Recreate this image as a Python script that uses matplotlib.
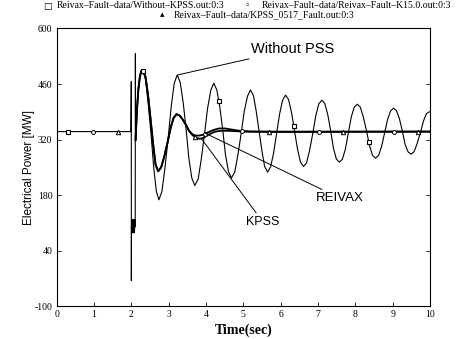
import numpy as np
import matplotlib
matplotlib.use("Agg")
import matplotlib.pyplot as plt

# shared part: steady state and fault (all three runs coincide here)
t_common = [0.0, 1.99, 2.0, 2.002, 2.005, 2.015, 2.025, 2.035, 2.045, 2.055, 2.065,
            2.075, 2.085, 2.095, 2.105, 2.11, 2.115]
p_common = [340, 340, 466, -36, 100, 118, 85, 118, 85, 118, 85,
            118, 85, 118, 100, 537, 319]

# first swing after clearing, same for all three
t_swing = [2.115, 2.15, 2.19, 2.23, 2.27, 2.31]
p_swing = [319, 392, 447, 479, 493, 495]

# without PSS
t_without = [2.38, 2.45, 2.53, 2.60, 2.67, 2.74,
             2.82, 2.90, 2.99, 3.07, 3.15, 3.23,
             3.31, 3.39, 3.47, 3.54, 3.62, 3.70,
             3.79, 3.87, 3.96, 4.04, 4.13, 4.21,
             4.29, 4.37, 4.45, 4.52, 4.60, 4.68,
             4.77, 4.85, 4.94, 5.02, 5.11, 5.19,
             5.27, 5.34, 5.42, 5.50, 5.57, 5.65,
             5.73, 5.81, 5.89, 5.97, 6.05, 6.13,
             6.21, 6.29, 6.37, 6.45, 6.53, 6.61,
             6.69, 6.77, 6.86, 6.94, 7.02, 7.10,
             7.18, 7.26, 7.34, 7.41, 7.49, 7.57,
             7.65, 7.73, 7.81, 7.89, 7.97, 8.05,
             8.13, 8.21, 8.30, 8.38, 8.46, 8.54,
             8.62, 8.70, 8.78, 8.86, 8.94, 9.02,
             9.10, 9.18, 9.26, 9.33, 9.41, 9.49,
             9.57, 9.65, 9.74, 9.82, 9.90, 9.98, 10.0]
p_without = [473, 413, 332, 250, 190, 168,
             189, 247, 326, 404, 462, 483,
             464, 413, 344, 274, 223, 204,
             220, 268, 333, 397, 445, 462,
             445, 402, 343, 283, 240, 223,
             238, 279, 334, 389, 429, 445,
             431, 394, 342, 290, 252, 238,
             251, 286, 335, 384, 419, 432,
             421, 388, 342, 296, 263, 252,
             261, 291, 336, 380, 410, 419,
             411, 383, 341, 299, 271, 263,
             270, 295, 336, 377, 402, 409,
             402, 378, 341, 304, 280, 273,
             280, 302, 336, 370, 392, 399,
             393, 372, 340, 308, 289, 283,
             289, 309, 337, 366, 385, 390, 390]

# REIVAX stabilizer
t_reivax = [2.38, 2.45, 2.52, 2.59, 2.65, 2.72,
            2.80, 2.88, 2.97, 3.05, 3.13, 3.21,
            3.30, 3.38, 3.47, 3.55, 3.64, 3.72,
            3.82, 3.92, 4.05, 4.20, 4.35, 4.50, 4.70, 4.90, 5.20, 6.0, 10.0]
p_reivax = [478, 431, 368, 304, 257, 240,
            250, 276, 312, 348, 374, 384,
            380, 370, 356, 342, 333, 330,
            330, 332, 338, 344, 348, 348, 345, 342, 340, 339, 340]

# KPSS stabilizer
t_kpss = [2.38, 2.45, 2.52, 2.59, 2.65, 2.72,
          2.80, 2.88, 2.97, 3.05, 3.13, 3.21,
          3.30, 3.38, 3.47, 3.55, 3.64, 3.72,
          3.82, 3.90, 4.00, 4.10, 4.25, 4.40, 4.60, 5.00, 10.0]
p_kpss = [478, 431, 368, 304, 257, 240,
          250, 276, 312, 348, 374, 384,
          380, 370, 356, 341, 331, 325,
          322, 323, 328, 334, 340, 342, 342, 340, 340]

# marker times for each run
mk_without = [0.30, 2.32, 4.34, 6.35, 8.36]
mk_reivax = [0.98, 3.98, 4.97, 7.02, 9.03]
mk_kpss = [1.65, 3.71, 5.68, 7.67, 9.68]

legend_labels = ["Reivax\u2013Fault\u2013data/Without\u2013KPSS.out:0:3",
                 "Reivax\u2013Fault\u2013data/Reivax\u2013Fault\u2013K15.0.out:0:3",
                 "Reivax\u2013Fault\u2013data/KPSS_0517_Fault.out:0:3"]

tw = t_common + t_swing[1:] + t_without
pw = p_common + p_swing[1:] + p_without
tr = t_common + t_swing[1:] + t_reivax
pr = p_common + p_swing[1:] + p_reivax
tk = t_common + t_swing[1:] + t_kpss
pk = p_common + p_swing[1:] + p_kpss

fig = plt.figure(figsize=(4.6, 3.39), dpi=100)
ax = fig.add_axes([0.123, 0.097, 0.812, 0.819])

# fault part drawn once, thin
ax.plot(t_common, p_common, color="black", lw=0.8)
ax.plot(t_swing + t_without, p_swing + p_without, color="black", lw=0.8)
ax.plot(t_swing + t_reivax, p_swing + p_reivax, color="black", lw=1.3)
ax.plot(t_swing + t_kpss, p_swing + p_kpss, color="black", lw=1.3)

ax.plot(mk_without, np.interp(mk_without, tw, pw), ls="none", marker="s", ms=3.2,
        mfc="white", mec="black", mew=0.8)
ax.plot(mk_reivax, np.interp(mk_reivax, tr, pr), ls="none", marker="o", ms=2.8,
        mfc="white", mec="black", mew=0.7)
ax.plot(mk_kpss, np.interp(mk_kpss, tk, pk), ls="none", marker="^", ms=3.2,
        mfc="white", mec="black", mew=0.7)

ax.set_xlim(0, 10)
ax.set_ylim(-100, 600)
ax.set_xticks(range(0, 11))
ax.set_yticks([-100, 40, 180, 320, 460, 600])
ax.set_yticklabels(["-100", "40", "180", "320", "460", "600"])
ax.tick_params(direction="in", length=3, width=0.6, right=True, labelsize=7, pad=3)
for lab in ax.get_xticklabels() + ax.get_yticklabels():
    lab.set_family("Liberation Serif")
for s in ax.spines.values():
    s.set_linewidth(0.8)

ax.set_xlabel("Time(sec)", family="Liberation Serif", fontweight="bold", fontsize=10, labelpad=3)
ax.set_ylabel("Electrical Power [MW]", family="Liberation Sans", fontsize=8.5, labelpad=0)

ann = dict(arrowstyle="-", color="black", lw=0.7, shrinkA=0, shrinkB=0)
ax.annotate("Without PSS", xy=(3.25, 483), xytext=(5.20, 548), fontsize=10.5,
            family="Liberation Sans", va="center", arrowprops=ann)
ax.annotate("REIVAX", xy=(3.98, 336), xytext=(6.95, 172), fontsize=9.5,
            family="Liberation Sans", va="center", arrowprops=ann)
ax.annotate("KPSS", xy=(3.88, 322), xytext=(5.07, 113), fontsize=9,
            family="Liberation Sans", va="center", arrowprops=ann)

# legend across the top
fig.text(47 / 460, 1 - 6 / 339, "\u25a1", fontsize=6.5, va="center", ha="center")
fig.text(57 / 460, 1 - 6 / 339, legend_labels[0], fontsize=7, va="center",
         family="Liberation Serif")
fig.text(247 / 460, 1 - 6 / 339, "\u25e6", fontsize=6.5, va="center", ha="center")
fig.text(262 / 460, 1 - 6 / 339, legend_labels[1], fontsize=7, va="center",
         family="Liberation Serif")
fig.text(162 / 460, 1 - 15 / 339, "\u25b4", fontsize=6.5, va="center", ha="center")
fig.text(174 / 460, 1 - 15 / 339, legend_labels[2], fontsize=7, va="center",
         family="Liberation Serif")

fig.savefig("out.png", dpi=100)
